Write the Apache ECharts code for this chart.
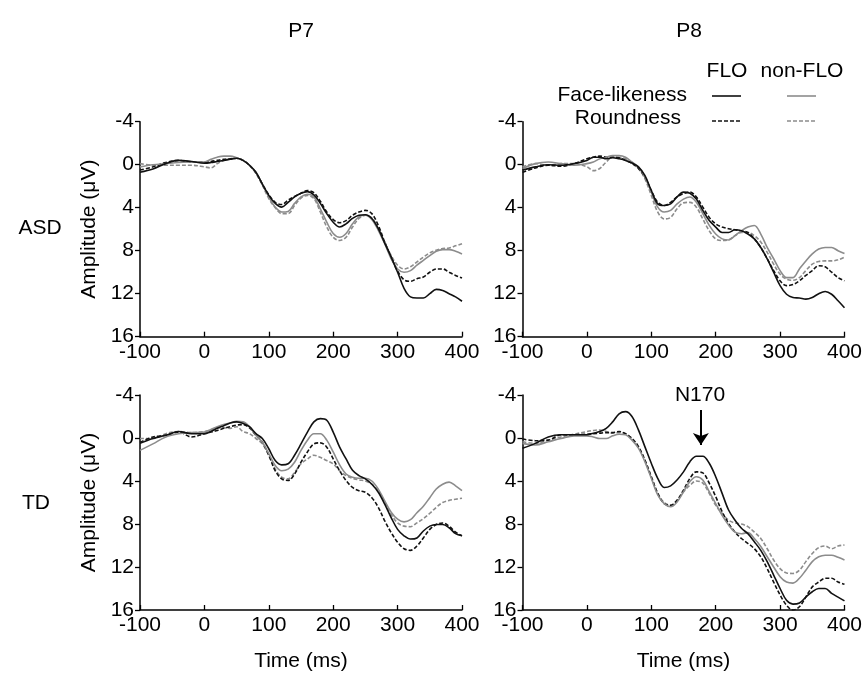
<!DOCTYPE html>
<html>
<head>
<meta charset="utf-8">
<script src="https://cdn.jsdelivr.net/npm/echarts@6/dist/echarts.min.js"></script>
<style>html,body{margin:0;padding:0;background:#fff;}#c{width:865px;height:676px;}</style>
</head>
<body>
<div id="c"></div>
<script>
// Time points (ms)
const times = [-100,-80,-60,-40,-20,0,10,20,30,40,50,60,70,80,90,100,110,120,130,140,150,160,170,180,190,200,210,220,230,240,250,260,270,280,290,300,310,320,330,340,350,360,370,380,390,400];
const xTicks = [-100,0,100,200,300,400];
const yTicks = [-4,0,4,8,12,16];
const columnLabels = ['P7','P8'];
const rowLabels = ['ASD','TD'];

// ASD, P7
const asdP7_faceFLO = [0.7,0.4,-0.1,-0.4,-0.3,-0.15,-0.2,-0.3,-0.4,-0.5,-0.6,-0.4,0.05,0.7,1.8,2.85,3.6,3.95,3.5,3.0,2.65,2.5,2.8,3.6,4.55,5.35,5.8,5.5,5.0,4.7,4.65,5.0,5.95,7.3,8.6,10.0,11.5,12.3,12.4,12.4,12.0,11.6,11.7,12.0,12.3,12.7];
const asdP7_faceNon = [0.2,0,-0.1,-0.2,-0.25,-0.25,-0.5,-0.7,-0.8,-0.8,-0.65,-0.4,0.05,0.7,1.8,3.0,3.95,4.4,4.35,3.6,3.0,2.75,3.0,4.1,5.35,6.4,6.75,6.4,5.5,4.85,4.7,5.1,6.1,7.35,8.75,9.7,10.0,9.85,9.35,8.9,8.45,8.05,7.9,7.9,8.05,8.3];
const asdP7_roundFLO = [0.5,0.2,-0.2,-0.4,-0.25,-0.25,-0.3,-0.4,-0.5,-0.55,-0.6,-0.4,0.05,0.75,1.8,2.8,3.5,3.7,3.3,2.95,2.65,2.4,2.6,3.4,4.4,5.1,5.4,5.2,4.7,4.4,4.25,4.55,5.65,7.2,8.6,9.9,10.7,10.85,10.6,10.45,10.0,9.7,9.7,10.0,10.3,10.55];
const asdP7_roundNon = [-0.1,0.05,0.05,0.05,0.05,0.2,0.3,-0.1,-0.4,-0.55,-0.6,-0.4,0.05,0.8,1.9,3.15,4.0,4.55,4.55,3.8,3.1,2.85,3.15,4.4,5.8,6.75,7.05,6.75,5.8,5.0,4.7,4.95,5.95,7.2,8.45,9.35,9.7,9.5,9.05,8.6,8.2,7.95,7.8,7.75,7.55,7.35];

// ASD, P8
const asdP8_faceFLO = [0.5,0.2,0,0.05,-0.1,-0.4,-0.7,-0.7,-0.55,-0.65,-0.55,-0.4,-0.15,0.2,1.0,2.4,3.65,3.8,3.65,3.0,2.55,2.65,3.2,4.25,5.2,5.8,6.3,6.3,6.05,6.15,6.45,6.9,7.7,8.75,10.0,11.25,12.05,12.35,12.4,12.5,12.35,12.0,11.8,12.05,12.65,13.3];
const asdP8_faceNon = [0.35,-0.1,-0.25,-0.1,0.05,-0.1,-0.25,-0.55,-0.7,-0.85,-0.85,-0.7,-0.25,0.2,1.15,2.55,3.95,4.4,4.25,3.65,3.2,3.0,3.5,4.55,5.65,6.45,6.9,7.0,6.6,6.15,5.8,5.65,6.45,7.7,8.75,9.85,10.5,10.5,9.7,8.95,8.3,7.85,7.7,7.7,8.0,8.25];
const asdP8_roundFLO = [0.7,0.3,0.05,0.15,-0.1,-0.55,-0.7,-0.8,-0.7,-0.7,-0.65,-0.4,-0.15,0.35,1.15,2.4,3.5,3.8,3.5,3.0,2.7,2.55,3.0,3.95,4.9,5.5,5.8,5.95,6.05,6.15,6.3,6.9,7.7,8.75,9.85,10.8,11.25,11.15,10.8,10.3,9.85,9.4,9.5,10.0,10.5,10.8];
const asdP8_roundNon = [0.2,-0.1,0.05,-0.1,-0.1,0.2,0.55,0.35,-0.25,-0.7,-0.7,-0.55,-0.1,0.35,1.3,2.85,4.4,5.05,4.9,4.1,3.55,3.5,3.95,5.05,6.15,6.9,7.05,7.0,6.6,6.3,6.3,6.6,7.2,8.15,9.25,10.2,10.65,10.75,10.5,9.85,9.25,9.0,8.95,8.95,8.85,8.6];

// TD, P7
const tdP7_faceFLO = [0.5,0.05,-0.25,-0.6,-0.4,-0.4,-0.6,-0.9,-1.15,-1.4,-1.5,-1.35,-1.05,-0.4,0.05,1.0,2.1,2.5,2.4,1.6,0.55,-0.55,-1.5,-1.8,-1.65,-0.55,0.85,1.95,3.0,3.5,3.8,4.3,5.05,6.15,7.4,8.5,9.1,9.4,9.3,8.65,8.2,8.05,8.05,8.35,8.9,9.1];
const tdP7_faceNon = [1.15,0.55,-0.1,-0.4,-0.5,-0.55,-0.8,-1.05,-1.25,-1.4,-1.55,-1.5,-1.05,-0.25,0.4,1.45,2.55,3.05,2.9,2.25,1.15,0.2,-0.4,-0.4,0.2,1.3,2.5,3.35,3.65,3.75,3.75,4.0,4.75,5.85,6.9,7.55,7.8,7.6,6.95,6.35,5.55,4.75,4.3,4.1,4.45,4.9];
const tdP7_roundFLO = [0.4,-0.1,-0.25,-0.55,-0.1,-0.4,-0.55,-0.7,-0.9,-1.05,-1.2,-1.25,-0.95,-0.25,0.4,1.6,3.05,3.8,3.95,3.35,2.25,1.3,0.55,0.45,0.85,1.95,3.05,3.95,4.6,4.9,5.05,5.55,6.45,7.7,8.8,9.7,10.3,10.45,10.05,9.3,8.5,8.05,7.9,8.2,8.75,9.1];
const tdP7_roundNon = [0.05,0.05,-0.4,-0.6,-0.5,-0.6,-0.75,-0.95,-0.95,-0.9,-1.05,-0.6,-0.4,0.05,0.55,1.6,2.9,3.65,3.8,3.2,2.4,1.95,1.6,1.8,2.1,2.4,3.05,3.5,3.75,3.9,4.0,4.3,4.9,6.0,7.1,7.9,8.2,8.25,7.9,7.5,7.0,6.45,6.0,5.8,5.7,5.6];

// TD, P8
const tdP8_faceFLO = [0.95,0.5,-0.1,-0.3,-0.3,-0.3,-0.45,-0.6,-0.9,-1.5,-2.25,-2.45,-2.0,-0.75,0.8,2.35,3.75,4.6,4.45,3.9,3.15,2.2,1.7,1.7,2.35,3.6,5.15,6.7,7.65,8.4,8.9,9.65,10.45,11.5,12.75,14.0,15.1,15.45,15.35,14.8,14.3,14.0,14.0,14.45,14.8,15.15];
const tdP8_faceNon = [0.5,0.65,0.35,0.05,-0.2,-0.2,-0.1,0.05,0.05,-0.2,-0.35,-0.3,0.2,0.95,2.2,3.75,5.3,6.1,6.4,5.95,5.0,4.05,3.6,3.9,5.0,6.1,7.2,8.1,8.75,8.9,8.8,9.35,10.1,11.05,12.0,12.9,13.4,13.5,13.05,12.3,11.5,11.05,10.9,10.9,11.1,11.35];
const tdP8_roundFLO = [0.1,0.25,0.2,-0.3,-0.3,-0.35,-0.4,-0.45,-0.5,-0.5,-0.6,-0.4,0.05,0.8,2.05,3.6,5.15,6.1,6.25,5.8,4.85,3.75,3.15,3.25,4.2,5.45,6.85,7.95,8.75,9.35,9.8,10.3,11.05,12.15,13.4,14.6,15.55,16.0,15.7,14.8,13.85,13.4,13.05,13.05,13.4,13.6];
const tdP8_roundNon = [0.35,0.5,0.2,-0.1,-0.35,-0.6,-0.7,-0.75,-0.6,-0.45,-0.5,-0.4,0.05,0.8,2.05,3.6,5.15,6.0,6.25,5.8,5.0,4.4,4.0,4.2,5.15,6.25,7.0,7.65,7.9,8.0,8.25,8.75,9.35,10.3,11.35,12.15,12.55,12.6,12.3,11.5,10.75,10.2,10.05,10.3,10.05,9.95];

// N170 annotation (data coordinates on TD/P8 panel)
const n170Time = 177;
const n170Arrow = [-2.6, 0.65];

const panels = [
  [asdP7_faceFLO, asdP7_faceNon, asdP7_roundFLO, asdP7_roundNon],
  [asdP8_faceFLO, asdP8_faceNon, asdP8_roundFLO, asdP8_roundNon],
  [tdP7_faceFLO, tdP7_faceNon, tdP7_roundFLO, tdP7_roundNon],
  [tdP8_faceFLO, tdP8_faceNon, tdP8_roundFLO, tdP8_roundNon]
];

const BLACK = '#111111', GRAY = '#8c8c8c';
const styles = [
  {color: BLACK, type: 'solid'},
  {color: GRAY, type: 'solid'},
  {color: BLACK, type: [4, 2]},
  {color: GRAY, type: [4, 2]}
];
const FONT = 'Liberation Sans, Arial, sans-serif';
const FS = 21;

const gridDefs = [
  {left: 140, top: 121.7, width: 322, height: 215},
  {left: 522.5, top: 121.7, width: 322.5, height: 215},
  {left: 140, top: 395, width: 322, height: 215},
  {left: 522.5, top: 395, width: 322.5, height: 215}
];

const axisLabelStyle = {color: '#000', fontSize: FS, fontFamily: FONT};

const xAxes = gridDefs.map((g, i) => ({
  type: 'value', gridIndex: i, min: xTicks[0], max: xTicks[xTicks.length - 1], interval: 100,
  axisLine: {onZero: false, lineStyle: {color: '#000', width: 1.5}},
  axisTick: {inside: true, length: 5, lineStyle: {color: '#000', width: 1.3}},
  axisLabel: Object.assign({margin: 5}, axisLabelStyle),
  splitLine: {show: false},
  name: i >= 2 ? 'Time (ms)' : '', nameLocation: 'middle', nameGap: 41,
  nameTextStyle: {color: '#000', fontSize: FS, fontFamily: FONT}
}));

const yAxes = gridDefs.map((g, i) => ({
  type: 'value', gridIndex: i, min: yTicks[0], max: yTicks[yTicks.length - 1], interval: 4, inverse: true,
  axisLine: {show: true, onZero: false, lineStyle: {color: '#000', width: 1.5}},
  axisTick: {show: true, inside: false, length: 5, lineStyle: {color: '#000', width: 1.3}},
  axisLabel: Object.assign({margin: 6}, axisLabelStyle),
  splitLine: {show: false},
  name: (i % 2 === 0) ? 'Amplitude (\u03bcV)' : '', nameLocation: 'middle', nameGap: 40,
  nameTextStyle: {color: '#000', fontSize: FS, fontFamily: FONT}
}));

const series = [];
panels.forEach((vals, p) => {
  vals.forEach((arr, k) => {
    const s = {
      type: 'line', xAxisIndex: p, yAxisIndex: p,
      data: arr.map((v, j) => [times[j], v]),
      showSymbol: false, smooth: 0.35, silent: true,
      lineStyle: {color: styles[k].color, type: styles[k].type, width: 1.6},
      z: 10 - k
    };
    if (p === 3 && k === 0) {
      s.markLine = {
        silent: true, animation: false,
        symbol: ['none', 'arrow'], symbolSize: 12,
        lineStyle: {color: '#000', type: 'solid', width: 2},
        label: {show: false},
        data: [[{coord: [n170Time, n170Arrow[0]]}, {coord: [n170Time, n170Arrow[1]]}]]
      };
    }
    series.push(s);
  });
});

const txt = (x, y, text, align) => ({
  type: 'text', x: x, y: y,
  style: {text: text, fill: '#000', font: FS + 'px ' + FONT, textAlign: align || 'center', textVerticalAlign: 'middle'}
});
const seg = (x1, x2, y, st) => ({
  type: 'line', shape: {x1: x1, y1: y, x2: x2, y2: y},
  style: {stroke: st.color, lineWidth: 1.6, lineDash: st.type === 'solid' ? null : st.type}
});

const graphic = [
  txt(301, 31, columnLabels[0]),
  txt(689, 31, columnLabels[1]),
  txt(40, 228, rowLabels[0]),
  txt(36, 503, rowLabels[1]),
  txt(727, 71, 'FLO'),
  txt(802, 71, 'non-FLO'),
  txt(687, 95, 'Face-likeness', 'right'),
  txt(681, 118, 'Roundness', 'right'),
  seg(712, 741, 96, styles[0]),
  seg(787, 816, 96, styles[1]),
  seg(712, 741, 121, styles[2]),
  seg(787, 816, 121, styles[3]),
  txt(700, 395, 'N170')
];

const chart = echarts.init(document.getElementById('c'), null, {renderer: 'canvas'});
chart.setOption({
  animation: false,
  backgroundColor: '#fff',
  grid: gridDefs,
  xAxis: xAxes,
  yAxis: yAxes,
  series: series,
  graphic: graphic
});
</script>
</body>
</html>
